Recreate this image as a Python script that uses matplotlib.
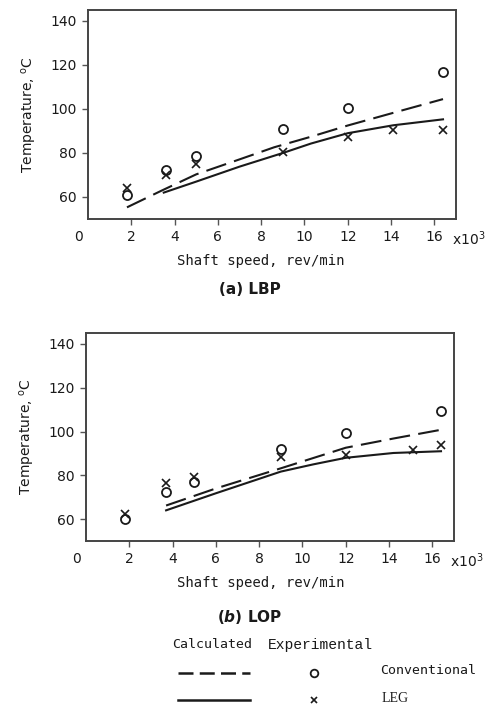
import matplotlib
matplotlib.use("Agg")
import matplotlib.pyplot as plt
from matplotlib.lines import Line2D

# (a) LBP
lbp_speed_conv = [1.8, 3.6, 5.0, 9.0, 12.0, 16.4]
lbp_temp_conv = [61, 72.5, 78.5, 91, 100.5, 117]
lbp_speed_leg = [1.8, 3.6, 5.0, 9.0, 12.0, 14.1, 16.4]
lbp_temp_leg = [64, 70, 75, 80.5, 87.5, 90.5, 90.5]
lbp_calc_speed_conv = [1.8, 3.4, 5.0, 7.0, 8.6, 10.3, 12.0, 14.3, 16.4]
lbp_calc_temp_conv = [55.3, 62.9, 70.3, 77.1, 82.6, 87.4, 92.5, 98.8, 104.5]
lbp_calc_speed_leg = [3.5, 5.0, 7.0, 9.0, 10.3, 12.0, 14.1, 16.4]
lbp_calc_temp_leg = [62, 67, 73.8, 80, 84.3, 89, 92.6, 95.3]

# (b) LOP
lop_speed_conv = [1.8, 3.7, 5.0, 9.0, 12.0, 16.4]
lop_temp_conv = [60, 72.6, 77.1, 92, 99.1, 109.2]
lop_speed_leg = [1.8, 3.7, 5.0, 9.0, 12.0, 15.1, 16.4]
lop_temp_leg = [62.3, 76.4, 79.4, 88.5, 89.5, 91.5, 93.8]
lop_calc_speed_conv = [3.7, 6.0, 9.0, 12.0, 14.2, 16.4]
lop_calc_temp_conv = [66.2, 74, 83.2, 92.6, 96.8, 100.8]
lop_calc_speed_leg = [3.7, 6.0, 9.0, 10.5, 12.0, 14.2, 16.4]
lop_calc_temp_leg = [64, 71.8, 81.7, 85, 88, 90.2, 91]

x_ticks = [2, 4, 6, 8, 10, 12, 14, 16]
y_ticks = [60, 80, 100, 120, 140]

INK = "#1a1a1a"
DASH = (10, 4)

plt.rcParams["font.family"] = "DejaVu Sans"
plt.rcParams["mathtext.fontset"] = "dejavusans"


def draw_panel(ax, conv_x, conv_y, leg_x, leg_y, cconv_x, cconv_y, cleg_x, cleg_y):
    ax.plot(cconv_x, cconv_y, color=INK, lw=1.5, dashes=DASH)
    ax.plot(cleg_x, cleg_y, color=INK, lw=1.5)
    ax.plot(conv_x, conv_y, ls="none", marker="o", ms=6.5, mfc="none",
            mec=INK, mew=1.3)
    ax.plot(leg_x, leg_y, ls="none", marker="x", ms=5.5, color=INK, mew=1.2)

    ax.set_xlim(0, 17)
    ax.set_ylim(50, 145)
    ax.set_xticks(x_ticks)
    ax.set_yticks(y_ticks)
    ax.tick_params(axis="both", direction="out", length=4, width=1,
                   color="#555555", labelsize=10, labelcolor=INK, pad=4)
    for sp in ax.spines.values():
        sp.set_color("#444444")
        sp.set_linewidth(1.4)

    # "0" label sits left of the axis corner
    ax.text(-0.42, -0.055, "0", transform=ax.get_xaxis_transform(),
            ha="center", va="top", fontsize=10, color=INK)
    ax.text(16.82, -0.05, r"x10$^{3}$", transform=ax.get_xaxis_transform(),
            ha="left", va="top", fontsize=10, color=INK)
    ax.set_ylabel(r"Temperature, $^{\rm o}$C", fontsize=10, color=INK,
                  labelpad=8)


fig = plt.figure(figsize=(4.87, 7.05), dpi=100)

ax1 = fig.add_axes([88 / 487, 1 - 219 / 705, 368 / 487, 209 / 705])
draw_panel(ax1, lbp_speed_conv, lbp_temp_conv, lbp_speed_leg, lbp_temp_leg,
           lbp_calc_speed_conv, lbp_calc_temp_conv,
           lbp_calc_speed_leg, lbp_calc_temp_leg)
fig.text(261 / 487, 1 - 261 / 705, "Shaft speed, rev/min", ha="center",
         va="center", fontsize=10, family="DejaVu Sans Mono", color=INK)
fig.text(250 / 487, 1 - 290 / 705, "(a) LBP", ha="center", va="center",
         fontsize=11, fontweight="bold", color=INK)

ax2 = fig.add_axes([86 / 487, 1 - 541 / 705, 368 / 487, 208 / 705])
draw_panel(ax2, lop_speed_conv, lop_temp_conv, lop_speed_leg, lop_temp_leg,
           lop_calc_speed_conv, lop_calc_temp_conv,
           lop_calc_speed_leg, lop_calc_temp_leg)
fig.text(261 / 487, 1 - 583 / 705, "Shaft speed, rev/min", ha="center",
         va="center", fontsize=10, family="DejaVu Sans Mono", color=INK)
fig.text(250 / 487, 1 - 617 / 705, r"($\mathbfit{b}$) LOP", ha="center",
         va="center", fontsize=11, fontweight="bold", color=INK)

# key below the panels
fig.text(212 / 487, 1 - 645 / 705, "Calculated", ha="center", va="center",
         fontsize=9.5, family="DejaVu Sans Mono", color=INK)
fig.text(320 / 487, 1 - 645 / 705, "Experimental", ha="center", va="center",
         fontsize=10.5, family="Liberation Mono", color=INK)
fig.add_artist(Line2D([178 / 487, 250 / 487], [1 - 673 / 705] * 2,
                      color=INK, lw=1.8, dashes=(6, 2.5)))
fig.add_artist(Line2D([178 / 487, 250 / 487], [1 - 700 / 705] * 2,
                      color=INK, lw=1.8))
fig.add_artist(Line2D([314 / 487], [1 - 673 / 705], ls="none", marker="o",
                      ms=5.5, mfc="none", mec=INK, mew=1.3))
fig.add_artist(Line2D([314 / 487], [1 - 700 / 705], ls="none", marker="x",
                      ms=5, color=INK, mew=1.2))
fig.text(380 / 487, 1 - 671 / 705, "Conventional", ha="left", va="center",
         fontsize=9.5, family="DejaVu Sans Mono", color=INK)
fig.text(382 / 487, 1 - 698 / 705, "LEG", ha="left", va="center",
         fontsize=10, family="Liberation Serif", color=INK)

fig.savefig("out.png", dpi=100)
